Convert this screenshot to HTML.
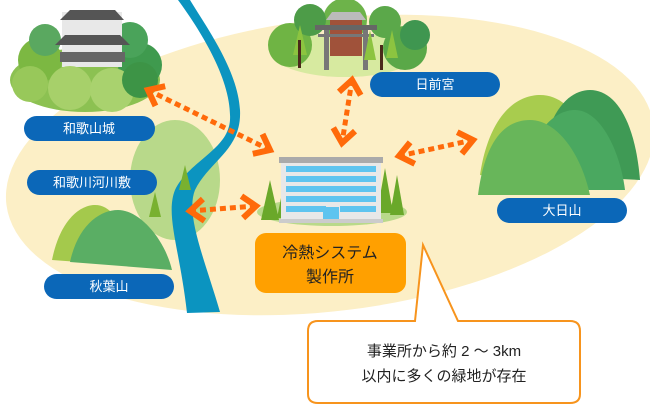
<!DOCTYPE html>
<html><head><meta charset="utf-8"><style>
html,body{margin:0;padding:0;background:#fff;}
svg{display:block;}
text{font-family:"Liberation Sans","Noto Sans CJK JP",sans-serif;}
</style></head><body>
<svg width="650" height="410" viewBox="0 0 650 410" xmlns="http://www.w3.org/2000/svg">
<defs>
<marker id="ah" viewBox="0 0 10 10" refX="6" refY="5" markerWidth="5.5" markerHeight="5.5" orient="auto-start-reverse" markerUnits="strokeWidth">
<polyline points="1,1 6,5 1,9" fill="none" stroke="#ff6a0a" stroke-width="2.2"/>
</marker>
</defs>
<ellipse cx="330" cy="165" rx="326" ry="146" transform="rotate(-7 330 165)" fill="#fcefc6"/>
<ellipse cx="175" cy="180" rx="45" ry="60" fill="#b8d98a"/>
<path d="M178,0 C200,30 232,80 230,120 C228,150 190,160 175,190 C165,215 180,250 187,313 L220,312 C205,260 185,215 195,190 C210,160 242,150 240,110 C238,70 205,25 190,0 Z" fill="#0b94c0"/>
<g>
<ellipse cx="85" cy="80" rx="75" ry="32" fill="#8cc152"/>
<circle cx="40" cy="60" r="22" fill="#7cb842"/>
<circle cx="140" cy="65" r="22" fill="#3f9a4e"/>
<circle cx="130" cy="40" r="18" fill="#4aa35a"/>
<circle cx="45" cy="40" r="16" fill="#5aa860"/>
<rect x="62" y="12" width="60" height="55" fill="#e8e8e8"/>
<polygon points="60,20 124,20 115,10 70,10" fill="#555"/>
<polygon points="55,45 130,45 120,35 65,35" fill="#555"/>
<rect x="60" y="52" width="65" height="10" fill="#666"/>
<circle cx="70" cy="88" r="22" fill="#a7d06a"/>
<circle cx="112" cy="90" r="22" fill="#a9d26e"/>
<circle cx="30" cy="84" r="18" fill="#98c85a"/>
<circle cx="140" cy="80" r="18" fill="#3d9446"/>
</g>
<g>
<ellipse cx="345" cy="55" rx="70" ry="22" fill="#d7eaa0"/>
<circle cx="290" cy="45" r="22" fill="#6fb444"/>
<circle cx="405" cy="48" r="22" fill="#5aa848"/>
<circle cx="345" cy="20" r="22" fill="#6db34a"/>
<circle cx="310" cy="20" r="16" fill="#4d9c48"/>
<circle cx="385" cy="22" r="16" fill="#5ba84a"/>
<circle cx="415" cy="35" r="15" fill="#3f9650"/>
<rect x="330" y="18" width="32" height="38" fill="#a0523a"/>
<polygon points="326,20 366,20 360,12 332,12" fill="#bbb"/>
<rect x="315" y="25" width="62" height="5" fill="#666"/>
<rect x="318" y="34" width="56" height="3" fill="#777"/>
<rect x="324" y="30" width="5" height="40" fill="#777"/>
<rect x="363" y="30" width="5" height="40" fill="#777"/>
<path d="M300,25 l-7,30 14,0 z M370,30 l-6,30 12,0 z M392,30 l-6,28 12,0z" fill="#8cc440"/>
<rect x="298" y="40" width="3" height="28" fill="#4a2a1a"/>
<rect x="380" y="45" width="3" height="25" fill="#4a2a1a"/>
</g>
<path d="M480,175 C490,110 520,95 540,95 C560,95 575,110 580,130 L600,190 Z" fill="#a8cc4e"/>
<path d="M540,175 C545,110 570,90 590,90 C615,90 635,120 640,180 Z" fill="#3f9a55"/>
<path d="M520,190 C530,130 555,110 575,110 C600,110 620,150 625,190 Z" fill="#4aa860"/>
<path d="M478,195 C485,140 505,120 530,120 C555,120 580,150 590,195 Z" fill="#68b65a"/>
<path d="M52,260 C60,220 80,205 95,205 C110,205 120,220 125,240 L120,265 Z" fill="#a4c94c"/>
<path d="M70,262 C78,225 100,210 118,210 C140,210 165,240 172,270 Z" fill="#5aae64"/>
<path d="M185,165 l-6,25 12,0z M155,192 l-6,25 12,0z" fill="#79b130"/>
<ellipse cx="332" cy="212" rx="75" ry="14" fill="#b9d98a"/>
<path d="M270,180 l-9,40 18,0z M285,178 l-8,40 16,0z M385,168 l-8,45 16,0z M397,175 l-7,40 14,0z" fill="#6aa82a"/>
<rect x="279" y="157" width="104" height="6" fill="#aaaaaa"/>
<rect x="281" y="163" width="100" height="58" fill="#e8e8e8"/>
<g fill="#5ec4ef">
<rect x="286" y="166" width="90" height="6"/><rect x="286" y="176" width="90" height="6"/>
<rect x="286" y="186" width="90" height="6"/><rect x="286" y="196" width="90" height="6"/>
<rect x="286" y="206" width="40" height="6"/><rect x="340" y="206" width="36" height="6"/>
<rect x="323" y="207" width="16" height="14"/>
</g>
<rect x="279" y="219" width="104" height="4" fill="#ccc"/>
<g stroke="#ff6a0a" stroke-width="5" stroke-dasharray="6,4" fill="none" marker-start="url(#ah)" marker-end="url(#ah)">
<line x1="148" y1="90" x2="270" y2="150"/>
<line x1="352" y1="80" x2="342" y2="143"/>
<line x1="399" y1="156" x2="473" y2="140"/>
<line x1="190" y1="211" x2="256" y2="206"/>
</g>
<g fill="#0b67b8">
<rect x="24" y="116" width="131" height="25" rx="12.5"/>
<rect x="27" y="170" width="130" height="25" rx="12.5"/>
<rect x="44" y="274" width="130" height="25" rx="12.5"/>
<rect x="370" y="72" width="130" height="25" rx="12.5"/>
<rect x="497" y="198" width="130" height="25" rx="12.5"/>
</g>
<g fill="#fff" font-size="13" text-anchor="middle">
<text x="89" y="133">和歌山城</text>
<text x="92" y="187">和歌川河川敷</text>
<text x="109" y="291">秋葉山</text>
<text x="435" y="89">日前宮</text>
<text x="562" y="215">大日山</text>
</g>
<rect x="255" y="233" width="151" height="60" rx="11" fill="#ffa000"/>
<g font-size="16" fill="#222" text-anchor="middle">
<text x="330" y="258">冷熱システム</text>
<text x="330" y="282">製作所</text>
</g>
<path d="M318,321 L415,321 L423,245 L458,321 L570,321 Q580,321 580,331 L580,394 Q580,403 570,403 L318,403 Q308,403 308,394 L308,331 Q308,321 318,321 Z" fill="#fff" stroke="#f7941d" stroke-width="2"/>
<g font-size="15" fill="#222" text-anchor="middle">
<text x="444" y="356">事業所から約 2 ～ 3km</text>
<text x="444" y="381">以内に多くの緑地が存在</text>
</g>
</svg>
</body></html>
